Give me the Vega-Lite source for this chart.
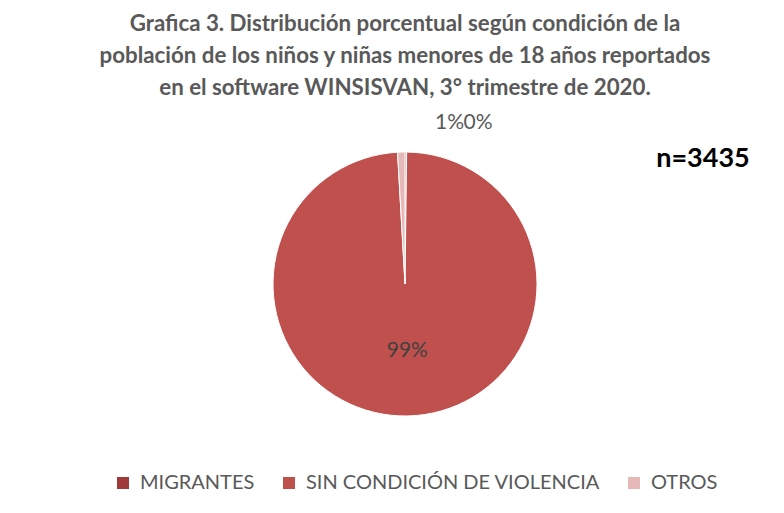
{
  "$schema": "https://vega.github.io/schema/vega-lite/v6.json",
  "width": 620,
  "height": 346,
  "padding": {"left": 95, "top": 12, "right": 69, "bottom": 5},
  "background": "white",
  "title": {
    "text": ["Grafica 3. Distribución porcentual según condición de la", "población de los niños y niñas menores de 18 años reportados", "en el software WINSISVAN, 3° trimestre de 2020."],
    "font": "Lato",
    "fontSize": 22.3,
    "fontWeight": "bold",
    "color": "#595959",
    "lineHeight": 32,
    "anchor": "middle",
    "frame": "group",
    "offset": 12
  },
  "datasets": {
    "pie": [
      {"condicion": "MIGRANTES", "proporcion": 0.002, "orden": 1},
      {"condicion": "SIN CONDICIÓN DE VIOLENCIA", "proporcion": 0.989, "orden": 2},
      {"condicion": "OTROS", "proporcion": 0.009, "orden": 3}
    ],
    "nota": [{"texto": "n=3435"}]
  },
  "data": {"name": "pie"},
  "encoding": {
    "theta": {"field": "proporcion", "type": "quantitative", "stack": true},
    "order": {"field": "orden", "type": "quantitative"}
  },
  "layer": [
    {
      "mark": {"type": "arc", "outerRadius": 132, "stroke": "white", "strokeWidth": 1},
      "encoding": {
        "color": {
          "field": "condicion",
          "type": "nominal",
          "scale": {"domain": ["MIGRANTES", "SIN CONDICIÓN DE VIOLENCIA", "OTROS"], "range": ["#a03a3a", "#c0504d", "#e6b9b8"]},
          "legend": {
            "title": null,
            "orient": "none",
            "legendX": 18,
            "legendY": 362,
            "direction": "horizontal",
            "symbolType": "square",
            "symbolSize": 144,
            "symbolStrokeWidth": 0,
            "labelFont": "Lato",
            "labelFontSize": 20,
            "labelColor": "#595959",
            "labelLimit": 400,
            "labelOffset": 7,
            "columnPadding": 24
          }
        }
      }
    },
    {
      "transform": [{"filter": "datum.condicion === 'SIN CONDICIÓN DE VIOLENCIA'"}],
      "mark": {"type": "text", "radius": 67, "font": "Lato", "fontSize": 21, "color": "#404040"},
      "encoding": {"text": {"field": "proporcion", "type": "quantitative", "format": ".0%"}}
    },
    {
      "transform": [{"filter": "datum.condicion === 'OTROS'"}],
      "mark": {"type": "text", "radius": 161, "dx": 40, "font": "Lato", "fontSize": 21, "color": "#595959"},
      "encoding": {"text": {"field": "proporcion", "type": "quantitative", "format": ".0%"}}
    },
    {
      "transform": [{"filter": "datum.condicion === 'MIGRANTES'"}],
      "mark": {"type": "text", "radius": 161, "dx": 72, "font": "Lato", "fontSize": 21, "color": "#595959"},
      "encoding": {"text": {"field": "proporcion", "type": "quantitative", "format": ".0%"}}
    },
    {
      "data": {"name": "nota"},
      "mark": {"type": "text", "font": "Lato", "fontSize": 27, "fontWeight": "bold", "color": "black"},
      "encoding": {
        "text": {"field": "texto", "type": "nominal"},
        "x": {"value": 608},
        "y": {"value": 48},
        "theta": null,
        "order": null
      }
    }
  ],
  "config": {"view": {"stroke": null}}
}
